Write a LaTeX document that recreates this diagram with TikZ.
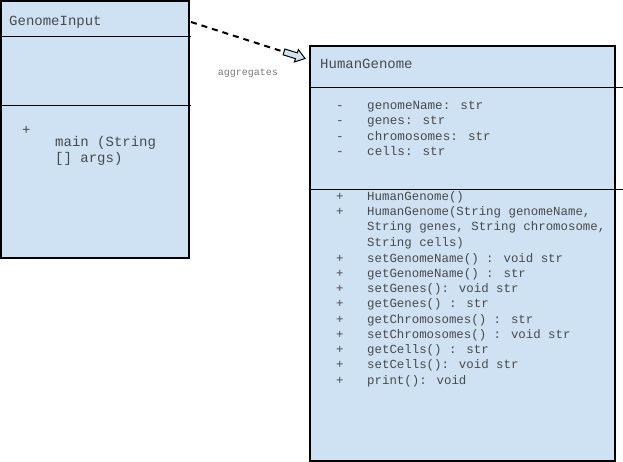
\documentclass[tikz,border=0pt]{standalone}
\usepackage{fontspec}
\newfontfamily\umlmono{Liberation Mono}
\definecolor{boxblue}{HTML}{CFE2F3}
\definecolor{txt}{HTML}{4A4A4A}
\definecolor{lbl}{HTML}{7A7A7A}
\tikzset{
  classbox/.style={draw=black, fill=boxblue, line width=1.3pt, inner sep=0pt, outer sep=0pt, anchor=north west},
  divider/.style={draw=black, line width=1pt},
  titletext/.style={anchor=base west, inner sep=0pt, text=txt, font=\umlmono\fontsize{14}{16}\selectfont},
  attrtext/.style={anchor=base west, inner sep=0pt, text=txt, font=\umlmono\fontsize{12.6}{15}\selectfont},
  methtext/.style={anchor=base west, inner sep=0pt, text=txt, font=\umlmono\fontsize{12.4}{15}\selectfont},
  conn/.style={draw=black, line width=2pt, dash pattern=on 6pt off 5pt},
  labeltext/.style={anchor=center, inner sep=0pt, text=lbl, font=\umlmono\fontsize{10}{12}\selectfont},
}
\begin{document}
\begin{tikzpicture}[x=1pt, y=-1pt]
\useasboundingbox (0,0) rectangle (623,462);
% GenomeInput class
\node[classbox, minimum width=188pt, minimum height=257pt] (gi) at (1,1) {};
\draw[divider] (1,37) -- (191,37);
\draw[divider] (1,106) -- (191,106);
\node[titletext] (gititle) at (9,26) {GenomeInput};
\node[titletext] (giplus) at (22,135) {+};
\node[titletext] (gim1) at (55,147) {main (String};
\node[titletext] (gim2) at (55,163) {[] args)};
% HumanGenome class
\node[classbox, minimum width=305pt, minimum height=415pt] (hg) at (310,46) {};
\draw[divider] (310,88) -- (623,88);
\draw[divider] (310,190) -- (623,190);
\node[titletext] (hgtitle) at (320,69) {HumanGenome};
% attributes
\node[attrtext] (am1) at (336,110) {-};
\node[attrtext] (a1) at (367,110) {genomeName: str};
\node[attrtext] (am2) at (336,125) {-};
\node[attrtext] (a2) at (367,125) {genes: str};
\node[attrtext] (am3) at (336,141) {-};
\node[attrtext] (a3) at (367,141) {chromosomes: str};
\node[attrtext] (am4) at (336,156) {-};
\node[attrtext] (a4) at (367,156) {cells: str};
% methods
\node[methtext] (mp1) at (336,201) {+};
\node[methtext] (m1) at (367,201) {HumanGenome()};
\node[methtext] (mp2) at (336,216) {+};
\node[methtext] (m2) at (367,216) {HumanGenome(String genomeName,};
\node[methtext] (m2b) at (367,231) {String genes, String chromosome,};
\node[methtext] (m2c) at (367,246) {String cells)};
\node[methtext] (mp3) at (336,262) {+};
\node[methtext] (m3) at (367,262) {setGenomeName() : void str};
\node[methtext] (mp4) at (336,277) {+};
\node[methtext] (m4) at (367,277) {getGenomeName() : str};
\node[methtext] (mp5) at (336,292) {+};
\node[methtext] (m5) at (367,292) {setGenes(): void str};
\node[methtext] (mp6) at (336,307) {+};
\node[methtext] (m6) at (367,307) {getGenes() : str};
\node[methtext] (mp7) at (336,323) {+};
\node[methtext] (m7) at (367,323) {getChromosomes() : str};
\node[methtext] (mp8) at (336,338) {+};
\node[methtext] (m8) at (367,338) {setChromosomes() : void str};
\node[methtext] (mp9) at (336,353) {+};
\node[methtext] (m9) at (367,353) {getCells() : str};
\node[methtext] (mp10) at (336,368) {+};
\node[methtext] (m10) at (367,368) {setCells(): void str};
\node[methtext] (mp11) at (336,384) {+};
\node[methtext] (m11) at (367,384) {print(): void};
% aggregation connector
\coordinate (cstart) at (191,22);
\coordinate (ctail) at (284,51.9);
\draw[conn] (cstart) -- (ctail);
\draw[draw=black, fill=boxblue, line width=1pt, line join=miter]
  (284.9,49.0) -- (297.3,52.9) -- (298.4,49.6) -- (305,58.5) -- (294.4,62.0) -- (295.5,58.7) -- (283.1,54.8) -- cycle;
\node[labeltext] (agg) at (248,73) {aggregates};
\end{tikzpicture}
\end{document}
